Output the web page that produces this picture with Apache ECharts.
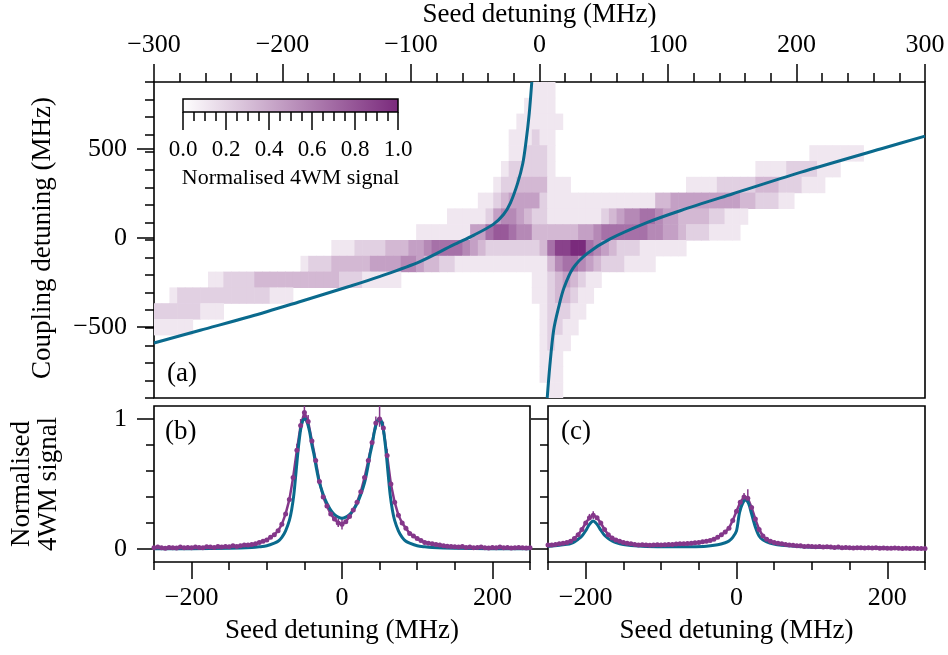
<!DOCTYPE html>
<html>
<head>
<meta charset="utf-8">
<script src="https://cdn.jsdelivr.net/npm/echarts@6/dist/echarts.min.js"></script>
<style>
  html, body { margin: 0; padding: 0; background: #fff; }
  #chart { width: 948px; height: 655px; }
</style>
</head>
<body>
<div id="chart"></div>
<script>
// 4WM map (a) plus two seed-detuning cuts (b), (c).

// ---- data ----
// map cells: 6 MHz seed columns from -300, 90 MHz coupling rows from +900 downwards.
// one char per cell = signal level 0..9 (9 = 1.0), written in groups of 10 columns.
const heatX0 = -300, heatDX = 6, heatY0 = 900, heatDY = 90;
const heatRows = [
  "0000000000 0000000000 0000000000 0000000000 0000000001 1100000000 0000000000 0000000000 0000000000 0000000000",
  "0000000000 0000000000 0000000000 0000000000 0000000011 1100000000 0000000000 0000000000 0000000000 0000000000",
  "0000000000 0000000000 0000000000 0000000000 0000000111 1110000000 0000000000 0000000000 0000000000 0000000000",
  "0000000000 0000000000 0000000000 0000000000 0000001112 1100000000 0000000000 0000000000 0000000000 0000000000",
  "0000000000 0000000000 0000000000 0000000000 0000001122 2100000000 0000000000 0000000000 0000011111 1100000000",
  "0000000000 0000000000 0000000000 0000000000 0000012222 2100000000 0000000000 0000000011 1122221110 0000000000",
  "0000000000 0000000000 0000000000 0000000000 0000122333 3111000000 0000000001 1112222233 3222111000 0000000000",
  "0000000000 0000000000 0000000000 0000000000 0011234444 2111111111 1111133444 4444443322 2110000000 0000000000",
  "0000000000 0000000000 0000000000 0000000011 1112455432 2111111123 4556654433 3322111000 0000000000 0000000000",
  "0000000000 0000000000 0000000000 0000111111 1446776553 3333344566 6666554432 2211110000 0000000000 0000000000",
  "0000000000 0000000000 0001112222 3334456666 5432222222 3688996543 2221111110 0000000000 0000000000 0000000000",
  "0000000000 0000000001 2223333344 4455433221 1111111111 1356654322 2111100000 0000000000 0000000000 0000000000",
  "0000000112 2223333333 3333222111 1100000000 0000000001 1234321100 0000000000 0000000000 0000000000 0000000000",
  "0012222222 2222211100 0000000000 0000000000 0000000001 1233211000 0000000000 0000000000 0000000000 0000000000",
  "2222221110 0000000000 0000000000 0000000000 0000000000 1222110000 0000000000 0000000000 0000000000 0000000000",
  "1111100000 0000000000 0000000000 0000000000 0000000000 1221100000 0000000000 0000000000 0000000000 0000000000",
  "0000000000 0000000000 0000000000 0000000000 0000000000 1211000000 0000000000 0000000000 0000000000 0000000000",
  "0000000000 0000000000 0000000000 0000000000 0000000000 1110000000 0000000000 0000000000 0000000000 0000000000",
  "0000000000 0000000000 0000000000 0000000000 0000000000 1110000000 0000000000 0000000000 0000000000 0000000000",
  "0000000000 0000000000 0000000000 0000000000 0000000000 0110000000 0000000000 0000000000 0000000000 0000000000",
];

// fitted resonance branches on the map [seed, coupling] MHz
const branchLeft = [[-300, -587], [-264, -514], [-225, -436], [-186, -350], [-147, -262], [-124, -207],
  [-93, -123], [-67, -28], [-51, 28], [-36, 89], [-28, 145], [-22.6, 212], [-17, 324], [-13, 436],
  [-10.5, 560], [-8, 720], [-6, 900]];
const branchRight = [[6, -900], [8, -720], [11, -514], [15, -380], [19, -274], [26, -162], [37, -78],
  [55, 6], [84, 100], [110, 168], [150, 262], [203, 385], [266, 520], [300, 592]];

// cuts: measured signal every 5 MHz from -250 MHz
const cutStart = -250, cutStep = 5;
const cutB = [
  0.01, 0.015, 0.01, 0.005, 0.012, 0.01, 0.008, 0.015, 0.01, 0.012, 0.01, 0.015, 0.012, 0.01, 0.018, 0.015,
  0.012, 0.02, 0.015, 0.02, 0.018, 0.025, 0.02,
  0.025, 0.03, 0.03, 0.035, 0.04, 0.05, 0.06, 0.07, 0.09, 0.11,
  0.14, 0.19, 0.27, 0.38, 0.55, 0.76, 0.95, 1.05, 0.98, 0.83,
  0.68, 0.52, 0.40, 0.33, 0.27, 0.23, 0.2, 0.19, 0.21, 0.25,
  0.3, 0.36, 0.44, 0.55, 0.68, 0.82, 0.97, 1.0, 0.93, 0.72,
  0.5, 0.36, 0.26, 0.2, 0.16, 0.12, 0.1, 0.08, 0.065, 0.05,
  0.045, 0.04, 0.035, 0.03, 0.025, 0.022,
  0.02, 0.018, 0.015, 0.02, 0.012, 0.015, 0.01, 0.012, 0.015, 0.01, 0.008, 0.012, 0.01, 0.015, 0.01, 0.012,
  0.008, 0.01, 0.012, 0.01, 0.008, 0.01,
];
const cutC = [
  0.03, 0.03, 0.035, 0.04, 0.045, 0.05,
  0.06, 0.08, 0.11, 0.15, 0.2, 0.24, 0.26, 0.24, 0.2, 0.15, 0.11, 0.085, 0.07, 0.06, 0.05, 0.045, 0.04,
  0.035, 0.03, 0.032, 0.03, 0.028, 0.03, 0.032, 0.03, 0.033, 0.035, 0.035, 0.038, 0.04, 0.04, 0.042, 0.045,
  0.048, 0.05, 0.055, 0.06,
  0.065, 0.075, 0.09, 0.11, 0.13, 0.16, 0.22, 0.29, 0.36, 0.40, 0.39, 0.32, 0.23, 0.15, 0.1, 0.075, 0.06,
  0.05, 0.045, 0.04, 0.035, 0.03,
  0.028, 0.025, 0.025, 0.02, 0.022, 0.02, 0.018, 0.02, 0.015, 0.018, 0.015, 0.012, 0.015, 0.01, 0.012, 0.01,
  0.008, 0.01, 0.01, 0.008, 0.01, 0.008, 0.01, 0.005, 0.008, 0.006, 0.005, 0.008, 0.005, 0.004, 0.005, 0.003,
  0.005, 0.004, 0.003, 0.004,
];
// visible error bars [seed, low, high]
const errB = [[-60, 0.71, 0.81], [-55, 0.9, 1.0], [-50, 0.99, 1.1], [-45, 0.93, 1.03], [-5, 0.17, 0.23],
  [0, 0.15, 0.23], [45, 0.92, 1.02], [50, 0.94, 1.1], [55, 0.88, 0.98], [60, 0.67, 0.77]];
const errC = [[-195, 0.22, 0.27], [-190, 0.23, 0.29], [10, 0.37, 0.43], [15, 0.36, 0.46]];

// fits [seed, signal]
const fitB = [[-250, 0.001], [-200, 0.002], [-150, 0.006], [-120, 0.012], [-110, 0.017], [-100, 0.025],
  [-90, 0.045], [-85, 0.06], [-80, 0.09], [-75, 0.14], [-70, 0.22], [-67, 0.30], [-64, 0.42], [-61, 0.60],
  [-58, 0.78], [-55, 0.92], [-52, 0.99], [-49, 1.0], [-46, 0.97], [-43, 0.90], [-40, 0.80], [-37, 0.72],
  [-34, 0.62], [-30, 0.51], [-25, 0.42], [-20, 0.35], [-15, 0.30], [-10, 0.265], [-5, 0.245], [0, 0.236],
  [5, 0.245], [10, 0.265], [15, 0.30], [20, 0.35], [25, 0.42], [30, 0.51], [34, 0.62], [37, 0.72],
  [40, 0.80], [43, 0.90], [46, 0.97], [49, 1.0], [52, 0.99], [55, 0.92], [58, 0.78], [61, 0.60],
  [64, 0.42], [67, 0.30], [70, 0.22], [75, 0.14], [80, 0.09], [85, 0.06], [90, 0.045], [100, 0.025],
  [110, 0.017], [120, 0.012], [150, 0.006], [200, 0.002], [250, 0.001]];
const fitC = [[-250, 0.02], [-235, 0.028], [-225, 0.036], [-220, 0.042], [-215, 0.055], [-210, 0.075],
  [-205, 0.1], [-200, 0.14], [-195, 0.19], [-190, 0.215], [-185, 0.19], [-180, 0.145], [-175, 0.105],
  [-170, 0.08], [-165, 0.062], [-160, 0.05], [-150, 0.035], [-140, 0.027], [-120, 0.02], [-90, 0.017],
  [-60, 0.018], [-40, 0.022], [-25, 0.032], [-15, 0.048], [-10, 0.062], [-5, 0.09], [0, 0.14], [4, 0.28],
  [8, 0.35], [12, 0.377], [16, 0.35], [20, 0.27], [25, 0.17], [30, 0.1], [35, 0.07], [40, 0.055],
  [48, 0.04], [60, 0.028], [80, 0.02], [120, 0.012], [160, 0.01], [198, 0.008]];

// axis ranges and tick values
const mapX = [-300, 300], mapY = [-900, 900], mapYMajor = [-500, 0, 500];
const cutX = [-250, 250], cutXMajor = [-200, 0, 200];
const cutY = [-0.1, 1.1], cutYMajor = [0, 1], cutYMinor = [0, 0.2, 0.4, 0.6, 0.8, 1];

// ---- style ----
const FONT = "'Liberation Serif', serif";
const INK = "#000";
const PURPLE = "#84378a";
const CMAP = ["#ffffff", "#7a2a7c"];
const TEAL = "#0a6a8d";
const TICK = { color: INK, width: 1.5 };
const minus = (v) => String(+(+v).toFixed(6)).replace("-", "\u2212");
const txt = (size) => ({ color: INK, fontFamily: FONT, fontSize: size });

// ---- build ----
const heatData = [];
heatRows.forEach((row, r) => {
  const cells = row.replace(/ /g, "");
  for (let c = 0; c < cells.length; c++) {
    const v = +cells[c];
    if (v > 0) heatData.push([heatX0 + heatDX * (c + 0.5), heatY0 - heatDY * (r + 0.5), v]);
  }
});
const toPts = (vals) => vals.map((v, i) => [cutStart + cutStep * i, v]);

function renderCell(params, api) {
  const x = api.value(0), y = api.value(1);
  const a = api.coord([x - heatDX / 2, y + heatDY / 2]);
  const b = api.coord([x + heatDX / 2, y - heatDY / 2]);
  return { type: "rect", shape: { x: a[0], y: a[1], width: b[0] - a[0] + 0.6, height: b[1] - a[1] + 0.6 },
           style: { fill: api.visual("color") } };
}
function renderErr(params, api) {
  const a = api.coord([api.value(0), api.value(1)]);
  const b = api.coord([api.value(0), api.value(2)]);
  return { type: "line", shape: { x1: a[0], y1: a[1], x2: b[0], y2: b[1] },
           style: { stroke: PURPLE, lineWidth: 1.5 } };
}
function renderBar(params, api) {
  const a = api.coord([0, 0]);
  const b = api.coord([1, 1]);
  return { type: "rect", shape: { x: a[0], y: b[1], width: b[0] - a[0], height: a[1] - b[1] },
           style: { fill: new echarts.graphic.LinearGradient(0, 0, 1, 0,
             [{ offset: 0, color: CMAP[0] }, { offset: 1, color: CMAP[1] }]), stroke: INK, lineWidth: 1.5 } };
}

const G_TOP = { left: 154, top: 78, width: 771, height: 320 };
const G_B = { left: 154, top: 406, width: 376, height: 156 };
const G_C = { left: 548, top: 406, width: 377, height: 156 };
const G_BAR = { left: 183, top: 99, width: 215, height: 13 };
const framed = (g) => Object.assign({ show: true, borderColor: INK, borderWidth: 1.6, backgroundColor: "transparent" }, g);
const bare = (g) => Object.assign({ show: false }, g);

const off = { show: false };
const noLine = { show: false, onZero: false };
const hidden = (gridIndex, range) => ({ gridIndex, type: "value", show: false, min: range[0], max: range[1],
  axisLine: noLine });
function minorAx(gridIndex, pos, range, tick, extra) {
  return Object.assign({ gridIndex, type: "value", position: pos, min: range[0], max: range[1],
    axisLine: noLine, splitLine: off, axisLabel: off,
    axisTick: Object.assign({ length: 8, lineStyle: TICK }, tick) }, extra);
}
function majorAx(gridIndex, pos, range, ticks, label, name, extra) {
  return Object.assign({ gridIndex, type: "value", position: pos, min: range[0], max: range[1],
    axisLine: noLine, splitLine: off,
    axisTick: { customValues: ticks, length: 17, lineStyle: TICK },
    axisLabel: label ? Object.assign({ customValues: ticks, formatter: minus }, txt(26), label) : off,
    name: name || "", nameLocation: "middle", nameTextStyle: txt(27) }, extra);
}

const option = {
  animation: false,
  backgroundColor: "#fff",
  grid: [framed(G_TOP), bare(G_TOP), framed(G_B), bare(G_B), framed(G_C), bare(G_C), bare(G_BAR)],
  visualMap: { type: "continuous", min: 0, max: 9, dimension: 2, seriesIndex: 0, show: false,
               inRange: { color: CMAP } },
  xAxis: [
    { gridIndex: 0, type: "value", position: "top", min: mapX[0], max: mapX[1], interval: 100,
      axisLine: noLine, splitLine: off, minorSplitLine: off,
      axisTick: { length: 18, lineStyle: TICK },
      minorTick: { show: true, splitNumber: 5, length: 9, lineStyle: TICK },
      axisLabel: Object.assign({ formatter: minus, margin: 24 }, txt(26)),
      name: "Seed detuning (MHz)", nameLocation: "middle", nameGap: 54, nameTextStyle: txt(27) },
    hidden(1, mapX),
    minorAx(2, "bottom", cutX, {}, { interval: 50 }),
    majorAx(3, "bottom", cutX, cutXMajor, { margin: 23 }, "Seed detuning (MHz)", { nameGap: 55 }),
    minorAx(4, "bottom", cutX, {}, { interval: 50 }),
    majorAx(5, "bottom", cutX, cutXMajor, { margin: 23 }, "Seed detuning (MHz)", { nameGap: 55 }),
    { gridIndex: 6, type: "value", position: "bottom", min: 0, max: 1, interval: 0.2,
      axisLine: noLine, splitLine: off, minorSplitLine: off,
      axisTick: { length: 18, lineStyle: TICK },
      minorTick: { show: true, splitNumber: 4, length: 9, lineStyle: TICK },
      axisLabel: Object.assign({ formatter: (v) => (+v).toFixed(1), margin: 26 }, txt(23)),
      name: "Normalised 4WM signal", nameLocation: "middle", nameGap: 55, nameTextStyle: txt(22) },
  ],
  yAxis: [
    minorAx(0, "left", mapY, { length: 9 }, { interval: 100 }),
    majorAx(1, "left", mapY, mapYMajor, { margin: 27 }, "Coupling detuning (MHz)", { nameGap: 98 }),
    minorAx(2, "left", cutY, { customValues: cutYMinor }),
    majorAx(3, "left", cutY, cutYMajor, { margin: 27 }, "Normalised\n4WM signal", { nameGap: 92 }),
    minorAx(4, "left", cutY, { customValues: cutYMinor }),
    majorAx(5, "left", cutY, cutYMajor, null, ""),
    hidden(6, [0, 1]),
  ],
  graphic: [
    { type: "text", left: 167, top: 360, style: { text: "(a)", font: `27px ${FONT}`, fill: INK } },
    { type: "text", left: 165, top: 418, style: { text: "(b)", font: `27px ${FONT}`, fill: INK } },
    { type: "text", left: 561, top: 418, style: { text: "(c)", font: `27px ${FONT}`, fill: INK } },
  ],
  series: [
    { type: "custom", xAxisIndex: 0, yAxisIndex: 0, renderItem: renderCell, data: heatData,
      encode: { x: 0, y: 1 }, clip: true, silent: true },
    { type: "line", xAxisIndex: 0, yAxisIndex: 0, data: branchLeft, showSymbol: false, smooth: 0.3,
      lineStyle: { color: TEAL, width: 3 }, clip: true },
    { type: "line", xAxisIndex: 0, yAxisIndex: 0, data: branchRight, showSymbol: false, smooth: 0.3,
      lineStyle: { color: TEAL, width: 3 }, clip: true },

    { type: "line", xAxisIndex: 2, yAxisIndex: 2, data: toPts(cutB), symbol: "circle", symbolSize: 5,
      showAllSymbol: true, lineStyle: { color: PURPLE, width: 2.5 }, itemStyle: { color: PURPLE } },
    { type: "custom", xAxisIndex: 2, yAxisIndex: 2, data: errB, renderItem: renderErr, encode: { x: 0, y: [1, 2] } },
    { type: "line", xAxisIndex: 2, yAxisIndex: 2, data: fitB, showSymbol: false, smooth: 0.3,
      lineStyle: { color: TEAL, width: 3 } },

    { type: "line", xAxisIndex: 4, yAxisIndex: 4, data: toPts(cutC), symbol: "circle", symbolSize: 5,
      showAllSymbol: true, lineStyle: { color: PURPLE, width: 2.5 }, itemStyle: { color: PURPLE } },
    { type: "custom", xAxisIndex: 4, yAxisIndex: 4, data: errC, renderItem: renderErr, encode: { x: 0, y: [1, 2] } },
    { type: "line", xAxisIndex: 4, yAxisIndex: 4, data: fitC, showSymbol: false, smooth: 0.3,
      lineStyle: { color: TEAL, width: 3 } },

    { type: "custom", xAxisIndex: 6, yAxisIndex: 6, data: [[0, 1]], renderItem: renderBar, silent: true },
  ],
};

echarts.init(document.getElementById("chart"), null, { renderer: "canvas" }).setOption(option);
</script>
</body>
</html>
